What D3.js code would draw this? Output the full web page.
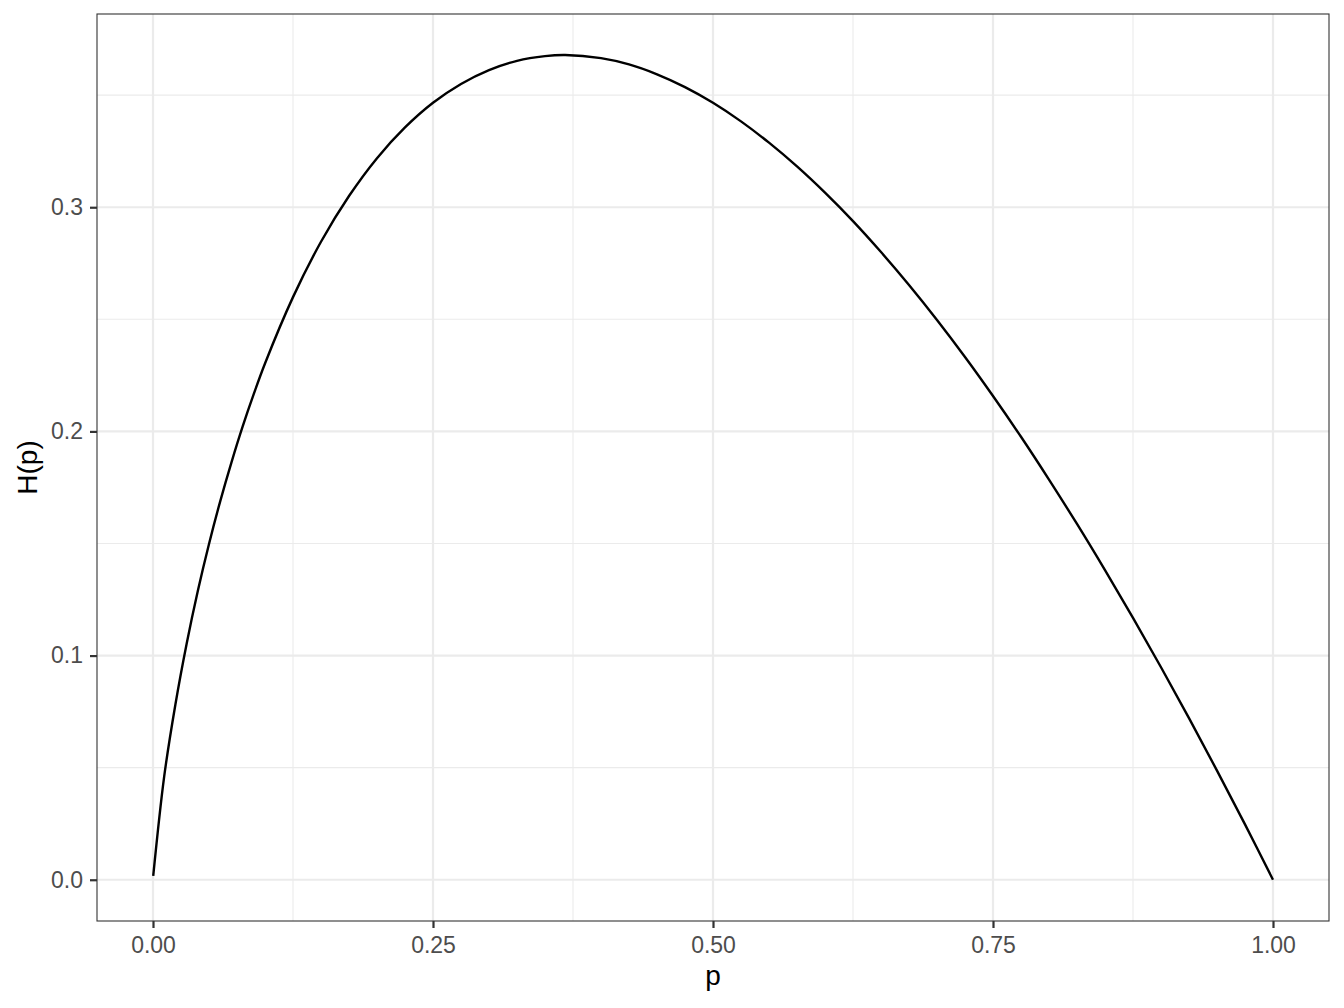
<!DOCTYPE html>
<html>
<head>
<meta charset="utf-8">
<script src="https://cdn.jsdelivr.net/npm/d3@7"></script>
<style>
  body { margin: 0; background: #fff; }
  svg { display: block; font-family: "Liberation Sans", Arial, sans-serif; }
</style>
</head>
<body>
<div id="chart"></div>
<script>
// Curve values
var pValues = [0.0002, 0.01, 0.02, 0.03, 0.04, 0.05, 0.06, 0.07, 0.08, 0.09, 0.10,
  0.125, 0.15, 0.175, 0.20, 0.225, 0.25, 0.275, 0.30, 0.325, 0.35, 0.368,
  0.40, 0.425, 0.45, 0.475, 0.50, 0.525, 0.55, 0.575, 0.60, 0.625, 0.65,
  0.675, 0.70, 0.725, 0.75, 0.775, 0.80, 0.825, 0.85, 0.875, 0.90, 0.925,
  0.95, 0.975, 1.00];
var hValues = [0.0017, 0.0461, 0.0782, 0.1052, 0.1288, 0.1498, 0.1688, 0.1861, 0.2021, 0.2167, 0.2303,
  0.2599, 0.2846, 0.3050, 0.3219, 0.3356, 0.3466, 0.3550, 0.3612, 0.3653, 0.3674, 0.3679,
  0.3665, 0.3637, 0.3593, 0.3536, 0.3466, 0.3383, 0.3288, 0.3182, 0.3065, 0.2938, 0.2800,
  0.2653, 0.2497, 0.2332, 0.2158, 0.1976, 0.1785, 0.1587, 0.1381, 0.1168, 0.0948, 0.0721,
  0.0487, 0.0247, 0.0];

var xTicks = [0, 0.25, 0.5, 0.75, 1];
var xMinor = [0.125, 0.375, 0.625, 0.875];
var yTicks = [0, 0.1, 0.2, 0.3];
var yMinor = [0.05, 0.15, 0.25, 0.35];

var width = 1344, height = 1008;
var panel = { left: 97, top: 14, right: 1329, bottom: 921 };

var svg = d3.select("#chart").append("svg")
    .attr("width", width)
    .attr("height", height);

var x = d3.scaleLinear().domain([-0.05, 1.05]).range([panel.left, panel.right]);
var y = d3.scaleLinear().domain([-0.0184, 0.3862]).range([panel.bottom, panel.top]);

// minor grid
svg.append("g").selectAll("line").data(xMinor).join("line")
    .attr("x1", d => x(d)).attr("x2", d => x(d))
    .attr("y1", panel.top).attr("y2", panel.bottom)
    .attr("stroke", "#ebebeb").attr("stroke-width", 1.1);
svg.append("g").selectAll("line").data(yMinor).join("line")
    .attr("y1", d => y(d)).attr("y2", d => y(d))
    .attr("x1", panel.left).attr("x2", panel.right)
    .attr("stroke", "#ebebeb").attr("stroke-width", 1.1);

// major grid
svg.append("g").selectAll("line").data(xTicks).join("line")
    .attr("x1", d => x(d)).attr("x2", d => x(d))
    .attr("y1", panel.top).attr("y2", panel.bottom)
    .attr("stroke", "#ebebeb").attr("stroke-width", 2.2);
svg.append("g").selectAll("line").data(yTicks).join("line")
    .attr("y1", d => y(d)).attr("y2", d => y(d))
    .attr("x1", panel.left).attr("x2", panel.right)
    .attr("stroke", "#ebebeb").attr("stroke-width", 2.2);

// the curve
var data = pValues.map((p, i) => ({ p: p, h: hValues[i] }));
var line = d3.line().x(d => x(d.p)).y(d => y(d.h)).curve(d3.curveCatmullRom.alpha(0.5));
svg.append("path")
    .datum(data)
    .attr("d", line)
    .attr("fill", "none")
    .attr("stroke", "#000")
    .attr("stroke-width", 2.4)
    .attr("stroke-linejoin", "round");

// panel border
svg.append("rect")
    .attr("x", panel.left).attr("y", panel.top)
    .attr("width", panel.right - panel.left)
    .attr("height", panel.bottom - panel.top)
    .attr("fill", "none")
    .attr("stroke", "#333")
    .attr("stroke-width", 1.1);

// axes
var xAxis = d3.axisBottom(x).tickValues(xTicks).tickFormat(d3.format(".2f")).tickSize(7).tickPadding(9);
var gx = svg.append("g").attr("transform", "translate(0," + panel.bottom + ")").call(xAxis);
var yAxis = d3.axisLeft(y).tickValues(yTicks).tickFormat(d3.format(".1f")).tickSize(7).tickPadding(7);
var gy = svg.append("g").attr("transform", "translate(" + panel.left + ",0)").call(yAxis);

[gx, gy].forEach(function (g) {
  g.select(".domain").remove();
  g.selectAll(".tick line").attr("stroke", "#333").attr("stroke-width", 2.2);
  g.selectAll(".tick text")
    .attr("fill", "#4d4d4d")
    .style("font-size", "23px")
    .style("font-family", "Liberation Sans, Arial, sans-serif");
});

// axis titles
svg.append("text")
    .attr("x", (panel.left + panel.right) / 2)
    .attr("y", 985)
    .attr("text-anchor", "middle")
    .style("font-size", "28px")
    .text("p");

svg.append("text")
    .attr("transform", "translate(37," + ((panel.top + panel.bottom) / 2) + ") rotate(-90)")
    .attr("text-anchor", "middle")
    .style("font-size", "28px")
    .text("H(p)");
</script>
</body>
</html>
